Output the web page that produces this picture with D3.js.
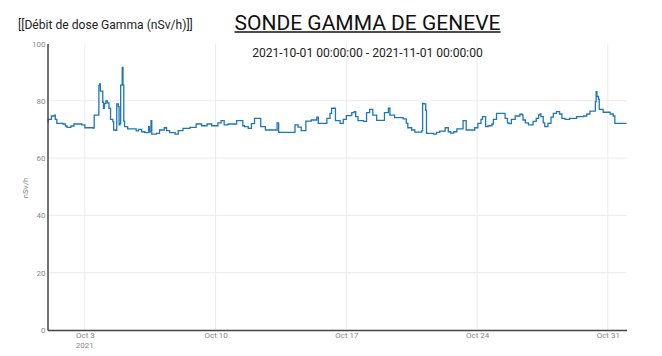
<!DOCTYPE html>
<html><head><meta charset="utf-8">
<script src="https://cdn.jsdelivr.net/npm/d3@7"></script>
<style>body{margin:0;background:#fff}svg{display:block}</style>
</head><body>
<script>
const times = ["2021-10-01 00:00","2021-10-01 01:00","2021-10-01 05:00","2021-10-01 09:00","2021-10-01 10:00","2021-10-01 12:00","2021-10-01 18:00","2021-10-01 20:00","2021-10-01 23:00",
"2021-10-02 01:00","2021-10-02 06:00","2021-10-02 10:00","2021-10-02 15:00","2021-10-02 20:00",
"2021-10-03 00:00","2021-10-03 10:00","2021-10-03 12:00","2021-10-03 17:00","2021-10-03 18:00","2021-10-03 19:00","2021-10-03 20:00","2021-10-03 22:00","2021-10-03 23:00",
"2021-10-04 00:00","2021-10-04 01:00","2021-10-04 03:00","2021-10-04 05:00","2021-10-04 07:00","2021-10-04 09:00","2021-10-04 12:00","2021-10-04 13:00","2021-10-04 16:00","2021-10-04 17:00","2021-10-04 19:00","2021-10-04 20:00","2021-10-04 21:00","2021-10-04 22:00",
"2021-10-05 00:00","2021-10-05 01:00","2021-10-05 02:00","2021-10-05 03:00","2021-10-05 07:00","2021-10-05 16:00","2021-10-05 18:00","2021-10-05 21:00",
"2021-10-06 01:00","2021-10-06 05:00","2021-10-06 10:00","2021-10-06 11:00","2021-10-06 13:00","2021-10-06 14:00","2021-10-06 20:00",
"2021-10-07 00:00","2021-10-07 06:00","2021-10-07 09:00","2021-10-07 13:00","2021-10-07 18:00","2021-10-07 20:00",
"2021-10-08 00:00","2021-10-08 06:00","2021-10-08 15:00","2021-10-08 23:00",
"2021-10-09 06:00","2021-10-09 13:00","2021-10-09 19:00",
"2021-10-10 03:00","2021-10-10 07:00","2021-10-10 11:00","2021-10-10 16:00",
"2021-10-11 01:00","2021-10-11 03:00","2021-10-11 09:00","2021-10-11 11:00","2021-10-11 13:00","2021-10-11 18:00","2021-10-11 22:00",
"2021-10-12 02:00","2021-10-12 09:00","2021-10-12 10:00","2021-10-12 16:00",
"2021-10-13 02:00","2021-10-13 07:00","2021-10-13 09:00","2021-10-13 23:00",
"2021-10-14 06:00","2021-10-14 10:00","2021-10-14 14:00","2021-10-14 20:00",
"2021-10-15 03:00","2021-10-15 10:00","2021-10-15 12:00","2021-10-15 20:00","2021-10-15 23:00",
"2021-10-16 03:00","2021-10-16 05:00","2021-10-16 09:00","2021-10-16 10:00","2021-10-16 16:00","2021-10-16 20:00",
"2021-10-17 00:00","2021-10-17 07:00","2021-10-17 10:00","2021-10-17 12:00","2021-10-17 15:00","2021-10-17 22:00",
"2021-10-18 02:00","2021-10-18 06:00","2021-10-18 10:00","2021-10-18 15:00","2021-10-18 19:00",
"2021-10-19 01:00","2021-10-19 06:00","2021-10-19 08:00","2021-10-19 14:00",
"2021-10-20 01:00","2021-10-20 05:00","2021-10-20 07:00","2021-10-20 12:00","2021-10-20 16:00",
"2021-10-21 01:00","2021-10-21 02:00","2021-10-21 04:00","2021-10-21 06:00","2021-10-21 07:00","2021-10-21 16:00","2021-10-21 20:00",
"2021-10-22 00:00","2021-10-22 07:00","2021-10-22 11:00","2021-10-22 14:00","2021-10-22 18:00","2021-10-22 22:00",
"2021-10-23 04:00","2021-10-23 06:00","2021-10-23 09:00","2021-10-23 10:00","2021-10-23 17:00","2021-10-23 21:00",
"2021-10-24 01:00","2021-10-24 05:00","2021-10-24 07:00","2021-10-24 10:00","2021-10-24 11:00","2021-10-24 14:00","2021-10-24 19:00","2021-10-24 21:00",
"2021-10-25 01:00","2021-10-25 09:00","2021-10-25 12:00","2021-10-25 15:00","2021-10-25 17:00","2021-10-25 20:00",
"2021-10-26 01:00","2021-10-26 07:00","2021-10-26 10:00","2021-10-26 11:00","2021-10-26 14:00","2021-10-26 18:00","2021-10-26 22:00",
"2021-10-27 00:00","2021-10-27 04:00","2021-10-27 07:00","2021-10-27 09:00","2021-10-27 10:00","2021-10-27 13:00","2021-10-27 15:00","2021-10-27 17:00","2021-10-27 19:00","2021-10-27 23:00",
"2021-10-28 02:00","2021-10-28 06:00","2021-10-28 10:00","2021-10-28 13:00","2021-10-28 17:00","2021-10-28 23:00",
"2021-10-29 08:00","2021-10-29 17:00","2021-10-29 21:00",
"2021-10-30 01:00","2021-10-30 05:00","2021-10-30 08:00","2021-10-30 09:00","2021-10-30 10:00","2021-10-30 12:00","2021-10-30 13:00","2021-10-30 18:00",
"2021-10-31 01:00","2021-10-31 03:00","2021-10-31 07:00","2021-10-31 09:00","2021-10-31 16:00",
"2021-11-01 00:00"];
const doseValues = [72.7,73.5,74.7,75.0,73.5,72.1,72.1,71.9,71.2,
70.7,71.2,71.9,71.9,71.6,
70.6,70.5,75.0,75.0,85.3,85.9,83.4,83.4,79.5,
77.4,79.0,80.0,79.3,77.4,73.5,72.7,69.8,69.7,78.9,78.0,71.6,72.0,85.5,
91.7,85.5,72.9,71.0,70.2,70.2,69.5,70.0,
69.2,68.9,71.0,69.2,73.1,68.4,68.6,
69.8,70.6,69.6,68.9,68.9,68.4,
69.6,70.4,70.7,71.9,
71.3,71.9,71.3,
72.3,73.1,71.6,71.9,
71.9,73.1,73.1,71.3,71.0,70.4,72.0,
73.9,73.9,71.0,69.8,
69.8,72.3,69.0,69.0,
71.6,70.8,69.6,72.9,
73.3,74.3,72.1,72.1,73.9,
75.6,77.4,77.4,73.1,72.1,73.5,
74.8,75.9,76.2,74.5,73.1,72.8,
75.9,77.0,75.0,73.2,73.2,
75.9,77.4,75.0,74.1,
73.7,72.2,70.6,69.8,69.1,
69.6,79.1,78.9,76.7,68.6,68.4,69.0,
69.4,70.6,69.2,68.7,69.2,70.2,
70.2,73.1,73.1,69.8,69.8,70.6,
72.1,73.5,74.5,74.5,71.0,71.3,71.9,73.5,
75.6,75.6,73.9,72.3,72.0,73.5,
74.7,75.3,75.0,73.3,72.3,71.6,71.6,
72.8,73.9,75.1,75.4,74.5,72.3,71.0,71.0,72.1,74.3,
75.6,76.2,75.4,73.9,73.5,73.9,
74.5,74.7,75.4,
76.4,76.4,79.7,83.2,81.5,80.5,77.0,76.0,
76.0,75.4,74.7,72.1,72.1,
72.1];
const yTicks = [0,20,40,60,80,100];
const xTickDates = ["2021-10-03","2021-10-10","2021-10-17","2021-10-24","2021-10-31"];
const xTickLabels = ["Oct 3","Oct 10","Oct 17","Oct 24","Oct 31"];
const titleText = "SONDE GAMMA DE GENEVE";
const subtitleText = "2021-10-01 00:00:00 - 2021-11-01 00:00:00";
const topLeftText = "[[Débit de dose Gamma (nSv/h)]]";
const yAxisTitle = "nSv/h";

const W = 662, H = 356;
const parse = d3.timeParse("%Y-%m-%d %H:%M");
const parseDay = d3.timeParse("%Y-%m-%d");
const data = times.map((t,i)=>({t:parse(t), v:doseValues[i]}));

const svg = d3.select("body").append("svg").attr("width",W).attr("height",H);
const font = "Roboto, 'Open Sans', sans-serif";

const x = d3.scaleTime().domain([parse("2021-10-01 00:00"), parse("2021-11-01 00:00")]).range([47.5, 626.5]);
const y = d3.scaleLinear().domain([0,100]).range([330, 43.5]);

// grid
svg.append("g").selectAll("line").data(xTickDates).join("line")
  .attr("x1",d=>x(parseDay(d))).attr("x2",d=>x(parseDay(d)))
  .attr("y1",y(100)).attr("y2",y(0)).attr("stroke","#ebebeb").attr("stroke-width",1);
svg.append("g").selectAll("line").data(yTicks.filter(d=>d>0 && d<100)).join("line")
  .attr("x1",x.range()[0]).attr("x2",x.range()[1])
  .attr("y1",d=>y(d)).attr("y2",d=>y(d)).attr("stroke","#ebebeb").attr("stroke-width",1);

// line
const line = d3.line().x(d=>x(d.t)).y(d=>y(d.v)).curve(d3.curveStepAfter);
svg.append("path").datum(data).attr("d",line).attr("fill","none")
  .attr("stroke","#1f77b4").attr("stroke-width",1.3);

// axes
const yAxis = d3.axisLeft(y).tickValues(yTicks).tickSize(0).tickPadding(2);
const gy = svg.append("g").attr("transform","translate(47.5,0)").call(yAxis);
gy.select(".domain").attr("stroke","#444").attr("stroke-width",1.5);
gy.selectAll("text").attr("fill","#888").style("font-family",font).style("font-size","8px");

const xAxis = d3.axisBottom(x).tickValues(xTickDates.map(parseDay)).tickSize(0).tickPadding(2)
  .tickFormat((d,i)=>xTickLabels[i]);
const gx = svg.append("g").attr("transform","translate(0,330)").call(xAxis);
gx.select(".domain").attr("stroke","#444").attr("stroke-width",1.5);
gx.selectAll("text").attr("fill","#888").style("font-family",font).style("font-size","8px");
gx.append("text").attr("x",x(parseDay(xTickDates[0]))).attr("y",17.5).attr("text-anchor","middle")
  .attr("fill","#888").style("font-family",font).style("font-size","8px").text("2021");

// y title
svg.append("text").attr("transform","translate(28,188) rotate(-90)").attr("text-anchor","middle")
  .attr("fill","#888").style("font-family",font).style("font-size","8px").text(yAxisTitle);

// texts
svg.append("text").attr("x",18).attr("y",28.5).attr("fill","#222")
  .style("font-family",font).style("font-size","12.1px").text(topLeftText);
const tt = svg.append("text").attr("x",367.5).attr("y",29.5).attr("text-anchor","middle").attr("fill","#111")
  .style("font-family",font).style("font-size","21px").text(titleText);
const bb = tt.node().getBBox();
svg.append("line").attr("x1",bb.x).attr("x2",bb.x+bb.width).attr("y1",32).attr("y2",32)
  .attr("stroke","#111").attr("stroke-width",1.4);
svg.append("text").attr("x",367.5).attr("y",57).attr("text-anchor","middle").attr("fill","#222")
  .style("font-family",font).style("font-size","12.1px").text(subtitleText);
</script>
</body></html>
